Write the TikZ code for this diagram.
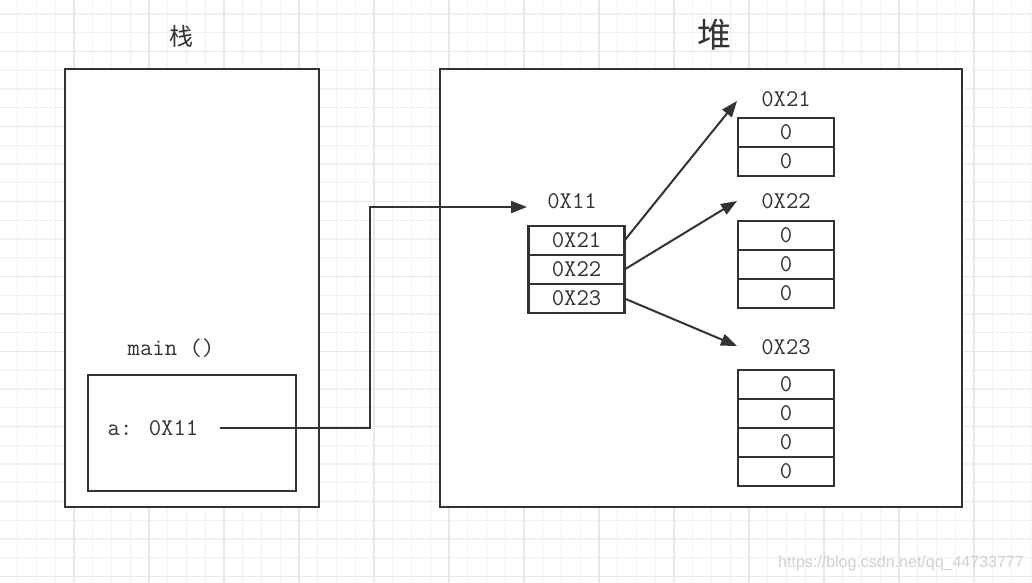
\documentclass[tikz,border=0pt]{standalone}
\usepackage{fontspec}
\newfontfamily\cjk{Noto Sans CJK SC}
\newfontfamily\wmfont{Liberation Sans}
\usetikzlibrary{positioning,arrows.meta}
\definecolor{ink}{HTML}{333333}
\definecolor{gridlo}{HTML}{F1F1F1}
\definecolor{gridhi}{HTML}{E8E8E8}
\tikzset{
  frame/.style={draw=ink, line width=2.5pt, inner sep=0pt, outer sep=0pt},
  addr/.style={font=\fontsize{24}{26}\selectfont\ttfamily, text=ink, inner sep=2pt},
  cell/.style={frame, addr, inner sep=0pt, minimum width=96pt, minimum height=29pt},
  ptr/.style={draw=ink, line width=2pt, -{Triangle[length=16pt,width=12pt]}},
}

\begin{document}
\begin{tikzpicture}[x=1pt,y=-1pt,line cap=round]
	\fill[white] (0,0) rectangle (1032,582);
	\useasboundingbox (0,0) rectangle (1032,582);
	\foreach \i in {0,...,54} \draw[gridlo,line width=1.2pt] ({17.75+18.75*\i},0) -- ++(0,582);
	\foreach \j in {0,...,30} \draw[gridlo,line width=1.2pt] (0,{14+18.75*\j}) -- ++(1032,0);
	\foreach \i in {0,...,12} \draw[gridhi,line width=1.4pt] ({74+75*\i},0) -- ++(0,582);
	\foreach \j in {0,...,7} \draw[gridhi,line width=1.4pt] (0,{51.5+75*\j}) -- ++(1032,0);

	\node[text=ink,font=\cjk\fontsize{24}{26}\selectfont] (zhan) at (181,36) {栈};
	\node[text=ink,font=\cjk\fontsize{34}{36}\selectfont] (dui) at (714,35) {堆};

	\node[frame,fill=white,minimum width=254pt,minimum height=438pt] (stack) at (192,288) {};
	\node[frame,fill=white,minimum width=522pt,minimum height=438pt] (heap) at (701,288) {};

	\node[addr] (mainfn) at (171,348) {main ()};
	\node[frame,minimum width=208pt,minimum height=116pt] (frm) at (192,433) {};
	\node[addr] (avar) at (153,428) {a: 0X11};

	\node[addr] (lbl11) at (572,201) {0X11};
	\node[cell] (p1) at (576.5,240.5) {0X21};
	\node[cell,below=0pt of p1] (p2) {0X22};
	\node[cell,below=0pt of p2] (p3) {0X23};

	\node[addr] (lbl21) at (786,99) {0X21};
	\node[cell] (a1) at (786,132.5) {0};
	\node[cell,below=0pt of a1] (a2) {0};

	\node[addr] (lbl22) at (786,201) {0X22};
	\node[cell] (b1) at (786,235.5) {0};
	\node[cell,below=0pt of b1] (b2) {0};
	\node[cell,below=0pt of b2] (b3) {0};

	\node[addr] (lbl23) at (786,347) {0X23};
	\node[cell] (c1) at (786,384.5) {0};
	\foreach \p/\n in {c1/c2,c2/c3,c3/c4}
		\node[cell,below=0pt of \p] (\n) {0};

	\coordinate (turn) at (370,207);
	\coordinate (in11) at (527,207);
	\coordinate (in21) at (737,101);
	\coordinate (in22) at (737,201);
	\coordinate (in23) at (737,346);

	\draw[ptr] ([xshift=20pt]avar.east) -| (turn) -- (in11);
	\draw[ptr] (p1.east) -- (in21);
	\draw[ptr] (p2.east) -- (in22);
	\draw[ptr] (p3.east) -- (in23);

	\node[text=black!18,font=\wmfont\fontsize{16}{18}\selectfont] (wm) at (901,563) {https://blog.csdn.net/qq\_44733777};
\end{tikzpicture}
\end{document}
